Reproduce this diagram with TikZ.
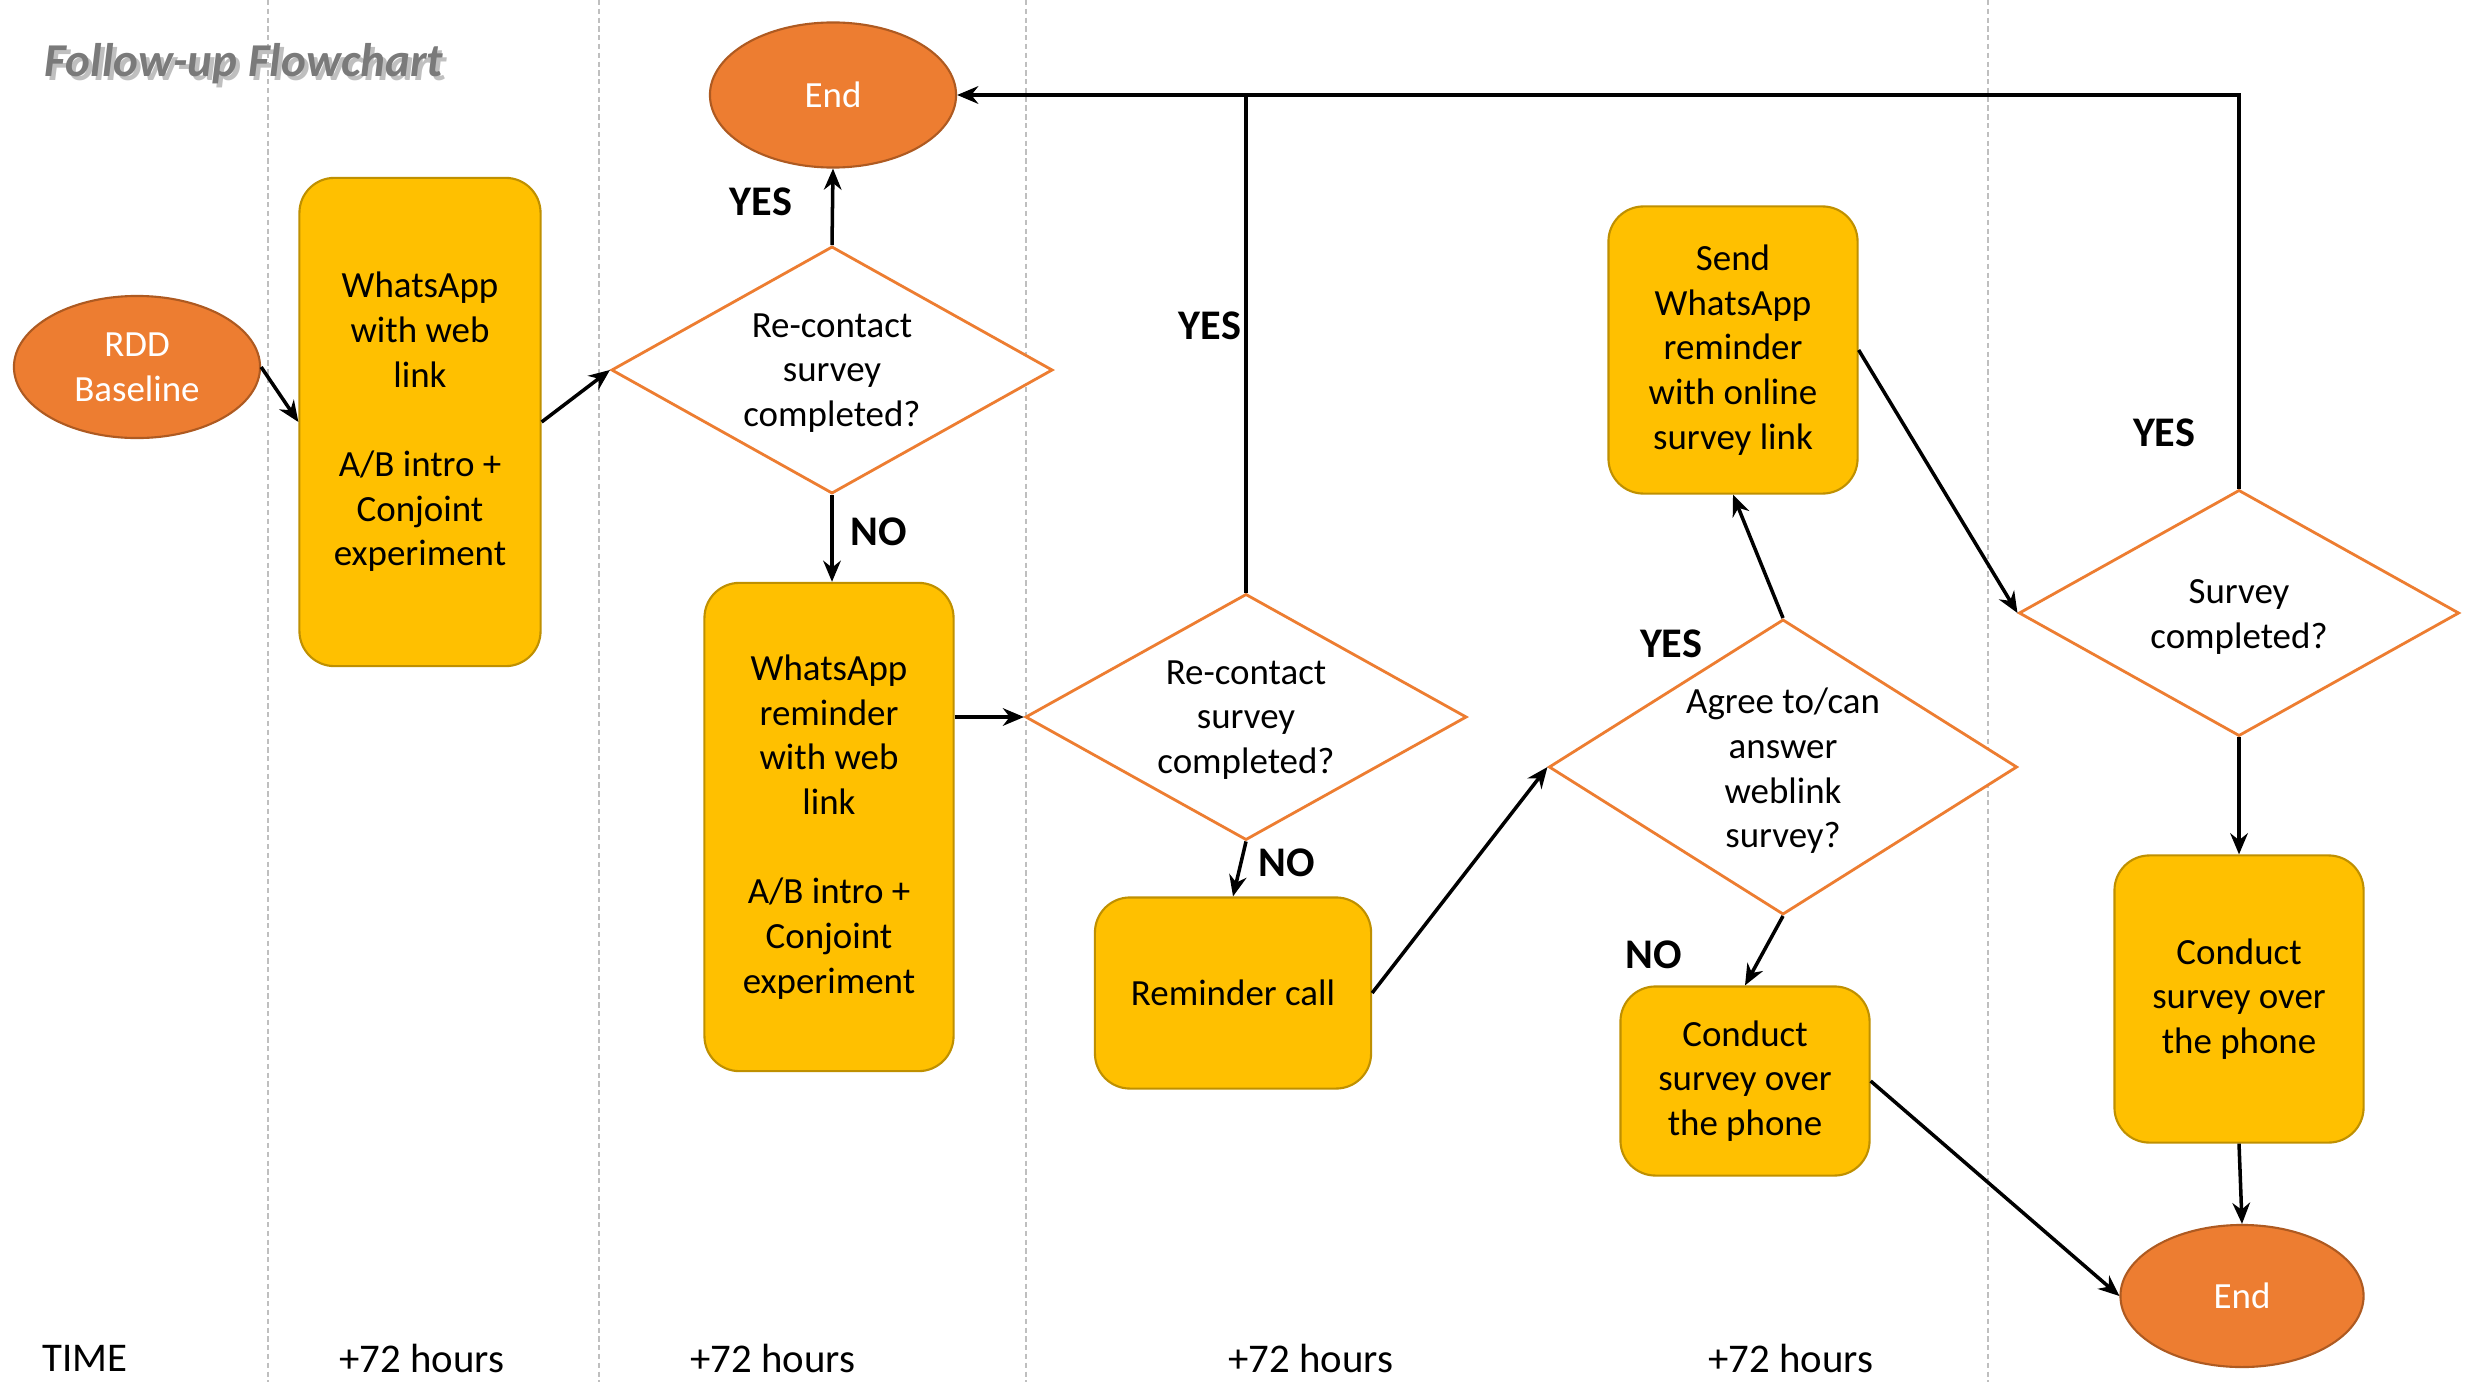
\documentclass[tikz,border=0pt]{standalone}
\usepackage{fontspec}
\setmainfont{Carlito}
\usetikzlibrary{shapes.geometric,arrows.meta}
\definecolor{endfill}{HTML}{ED7D31}
\definecolor{enddraw}{HTML}{AE5A21}
\definecolor{boxfill}{HTML}{FFC000}
\definecolor{boxdraw}{HTML}{BF9000}
\definecolor{diadraw}{HTML}{ED7D31}
\begin{document}
\begin{tikzpicture}[x=0.01cm,y=-0.01cm,
  body/.style={font=\fontsize{10.5}{12.7}\selectfont},
  term/.style={ellipse,fill=endfill,draw=enddraw,line width=0.6pt,text=white,align=center,inner sep=0pt,body},
  proc/.style={rectangle,rounded corners=0.35cm,fill=boxfill,draw=boxdraw,line width=0.6pt,align=center,inner sep=0pt,body},
  dia/.style={diamond,draw=diadraw,fill=white,line width=0.8pt,inner sep=0pt},
  diatext/.style={align=center,body},
  lab/.style={font=\fontsize{12}{14}\selectfont\bfseries},
  timelab/.style={font=\fontsize{11.6}{13}\selectfont},
  arr/.style={line width=1pt,-{Stealth[length=6pt,width=5pt]}},
  ln/.style={line width=1pt},
  sep/.style={draw=black!25,line width=0.4pt,dash pattern=on 1.5pt off 1pt},
  ttl/.style={anchor=west,inner sep=0pt,font=\fontsize{13.4}{15}\selectfont\bfseries\itshape}
]
\useasboundingbox (0,0) rectangle (2470,1382);
\fill[white] (0,0) rectangle (2470,1382);
% separators
\foreach \xx in {268,599,1026,1988} \draw[sep] (\xx,0) -- (\xx,1382);
% title
\node[ttl,text=black!25] at (48,68) {Follow-up Flowchart};
\node[ttl,text=black!52] (title) at (44,64) {Follow-up Flowchart};
% nodes
\node[term,minimum width=2.46cm,minimum height=1.42cm] (rdd) at (137,367) {RDD\\Baseline};
\node[proc,minimum width=2.41cm,minimum height=4.88cm] (b1) at (420,422) {WhatsApp\\with web\\link\\[12.7pt]A/B intro +\\Conjoint\\experiment};
\node[dia,minimum width=4.41cm,minimum height=2.47cm] (d1) at (832,370) {};
\node[diatext] (d1t) at (832,373) {Re-contact\\survey\\completed?};
\node[term,minimum width=2.46cm,minimum height=1.45cm] (end1) at (833,95) {End};
\node[proc,minimum width=2.49cm,minimum height=4.88cm] (b2) at (829,827) {WhatsApp\\reminder\\with web\\link\\[12.7pt]A/B intro +\\Conjoint\\experiment};
\node[dia,minimum width=4.41cm,minimum height=2.46cm] (d2) at (1246,717) {};
\node[diatext] (d2t) at (1246,720) {Re-contact\\survey\\completed?};
\node[proc,minimum width=2.76cm,minimum height=1.91cm] (rc) at (1233,993) {Reminder call};
\node[dia,minimum width=4.68cm,minimum height=2.95cm] (d3) at (1783,767) {};
\node[diatext] (d3t) at (1783,771) {Agree to/can\\answer\\weblink\\survey?};
\node[proc,minimum width=2.49cm,minimum height=2.87cm] (send) at (1733,350) {Send\\WhatsApp\\reminder\\with online\\survey link};
\node[proc,minimum width=2.49cm,minimum height=1.89cm] (cl) at (1745,1081) {Conduct\\survey over\\the phone};
\node[dia,minimum width=4.40cm,minimum height=2.46cm] (d4) at (2239,613) {};
\node[diatext] (d4t) at (2239,617) {Survey\\completed?};
\node[proc,minimum width=2.49cm,minimum height=2.87cm] (cr) at (2239,999) {Conduct\\survey over\\the phone};
\node[term,minimum width=2.43cm,minimum height=1.42cm] (end2) at (2242,1296) {End};
% labels
\node[lab] (y1) at (761,202) {YES};
\node[lab] (n1) at (879,532) {NO};
\node[lab] (y2) at (1210,326) {YES};
\node[lab] (n2) at (1287,863) {NO};
\node[lab] (y3) at (1671,644) {YES};
\node[lab] (n3) at (1654,955) {NO};
\node[lab] (y4) at (2164,433) {YES};
% time
\node[timelab] (t0) at (85,1358) {TIME};
\node[timelab] (t1) at (422,1358) {+72 hours};
\node[timelab] (t2) at (773,1358) {+72 hours};
\node[timelab] (t3) at (1311,1358) {+72 hours};
\node[timelab] (t4) at (1791,1358) {+72 hours};
% connectors
\draw[arr] (rdd.east) -- (b1.west);
\draw[arr] (b1.east) -- (d1.west);
\draw[arr] (d1.north) -- (end1.south);
\draw[arr] (d1.south) -- (d1.south |- b2.north);
\draw[arr] (b2.east |- d2.west) -- (d2.west);
\draw[ln] (d2.north) -- (d2.north |- end1.east);
\draw[arr] (d4.north) -- (d4.north |- end1.east) -- (end1.east);
\draw[arr] (d2.south) -- (rc.north);
\draw[arr] (rc.east) -- (d3.west);
\draw[arr] (d3.north) -- (send.south);
\draw[arr] (d3.south) -- (cl.north);
\draw[arr] (send.east) -- (d4.west);
\draw[arr] (d4.south) -- (cr.north);
\draw[arr] (cr.south) -- (end2.north);
\draw[arr] (cl.east) -- (end2.west);
\end{tikzpicture}
\end{document}
